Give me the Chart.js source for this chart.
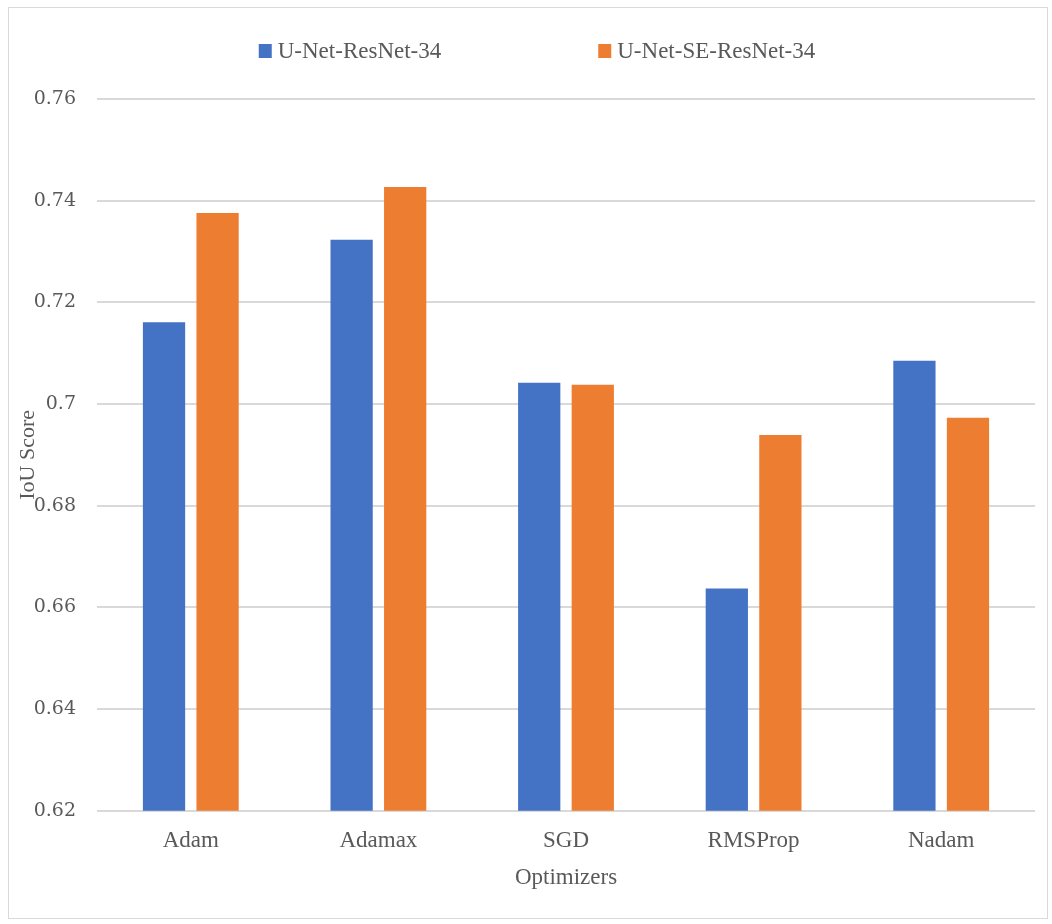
<!DOCTYPE html>
<html>
<head>
<meta charset="utf-8">
<script src="https://cdn.jsdelivr.net/npm/chart.js@4"></script>
<style>
  html, body { margin: 0; padding: 0; background: #fff; }
  #frame {
    position: absolute; left: 8px; top: 7px;
    width: 1038px; height: 910px;
    border: 1px solid #d9d9d9;
  }
</style>
</head>
<body>
<div id="frame"><canvas id="canvas-iou"></canvas></div>
<script>
const optimizers = ['Adam', 'Adamax', 'SGD', 'RMSProp', 'Nadam'];
const resnetScores = [0.7161, 0.7323, 0.7042, 0.6637, 0.7085];
const seResnetScores = [0.7376, 0.7427, 0.7038, 0.6939, 0.6973];
const yTicks = [0.62, 0.64, 0.66, 0.68, 0.70, 0.72, 0.74, 0.76];

const seriesNames = ['U-Net-ResNet-34', 'U-Net-SE-ResNet-34'];
const seriesColors = ['#4472C4', '#ED7D31'];
const textColor = '#595959';
const serif = "'Liberation Serif', 'Times New Roman', serif";

// legend row drawn by hand so the gap between entries can be wide
const legendRow = {
    id: 'legendRow',
    afterDraw(chart) {
        let ctx = chart.ctx;
        ctx.save();
        ctx.font = '23px ' + serif;
        ctx.textBaseline = 'middle';
        const box = 13, boxGap = 6, itemGap = 157;
        let widths = seriesNames.map(t => box + boxGap + ctx.measureText(t).width);
        let total = widths[0] + itemGap + widths[1];
        let x = chart.width / 2 + 9 - total / 2;
        let y = 43;
        seriesNames.forEach(function (name, i) {
            ctx.fillStyle = seriesColors[i];
            ctx.fillRect(x, y - 7, box, 14);
            ctx.fillStyle = textColor;
            ctx.fillText(name, x + box + boxGap, y + 1);
            x += widths[i] + itemGap;
        });
        ctx.restore();
    }
};

// rotated y axis title, sits over the tick labels
const yTitle = {
    id: 'yTitle',
    afterDraw(chart) {
        let ctx = chart.ctx;
        let area = chart.chartArea;
        ctx.save();
        ctx.translate(19, (area.top + area.bottom) / 2);
        ctx.rotate(-Math.PI / 2);
        ctx.font = '22px ' + serif;
        ctx.fillStyle = textColor;
        ctx.textAlign = 'center';
        ctx.textBaseline = 'middle';
        ctx.fillText('IoU Score', 0, 0);
        ctx.restore();
    }
};

let ctxIou = document.getElementById('canvas-iou').getContext('2d');
let iouChart = new Chart(ctxIou, {
    type: 'bar',
    data: {
        labels: optimizers,
        datasets: [
            { label: seriesNames[0], data: resnetScores, backgroundColor: seriesColors[0] },
            { label: seriesNames[1], data: seResnetScores, backgroundColor: seriesColors[1] }
        ]
    },
    plugins: [legendRow, yTitle],
    options: {
        responsive: true,
        maintainAspectRatio: false,
        animation: false,
        categoryPercentage: 0.571,
        barPercentage: 0.789,
        layout: { padding: { top: 91, right: 12, bottom: 22, left: 0 } },
        plugins: {
            legend: { display: false },
            tooltip: { enabled: false }
        },
        scales: {
            x: {
                grid: { display: false, drawTicks: false },
                border: { display: false },
                ticks: {
                    color: textColor,
                    padding: 16,
                    font: { family: serif, size: 23 }
                },
                title: {
                    display: true,
                    text: 'Optimizers',
                    color: textColor,
                    padding: { top: -6, bottom: 4 },
                    font: { family: serif, size: 23 }
                }
            },
            y: {
                min: 0.62,
                max: 0.76,
                afterBuildTicks: function (scale) {
                    scale.ticks = yTicks.map(v => ({ value: v }));
                },
                afterFit: function (scale) {
                    scale.width = 88;
                },
                grid: { color: '#d9d9d9', lineWidth: 2, drawTicks: false },
                border: { display: false },
                ticks: {
                    color: textColor,
                    padding: 21,
                    font: { family: "'DejaVu Serif', serif", size: 19 },
                    callback: function (value) {
                        return String(+value.toFixed(2));
                    }
                }
            }
        }
    }
});
</script>
</body>
</html>
